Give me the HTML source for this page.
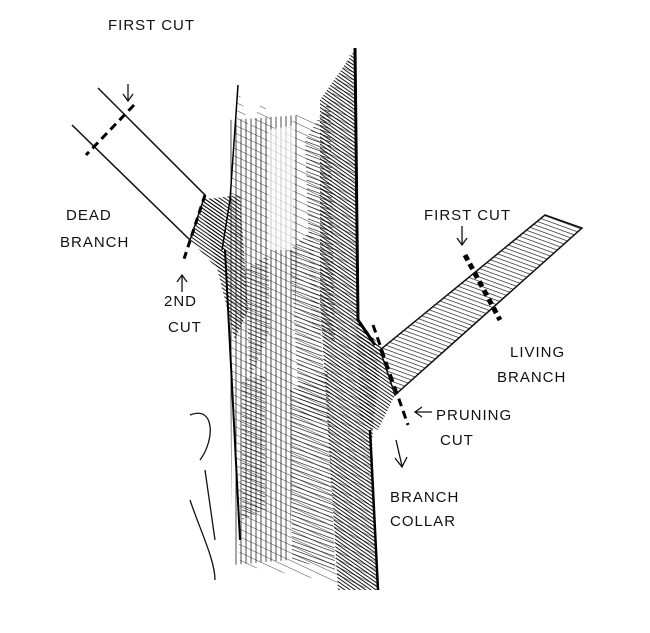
<!DOCTYPE html>
<html><head><style>
html,body{margin:0;padding:0;background:#fff;}
svg{display:block}
text{font-family:"Liberation Sans",sans-serif;font-size:15px;fill:#111;letter-spacing:1px}
</style></head><body>
<svg width="650" height="633" viewBox="0 0 650 633">
<defs>
<pattern id="h" width="6" height="4" patternUnits="userSpaceOnUse" patternTransform="rotate(20)">
<line x1="0" y1="0" x2="6" y2="0" stroke="#111" stroke-width="1.3"/></pattern>
<pattern id="hl" width="6" height="7" patternUnits="userSpaceOnUse" patternTransform="rotate(25)">
<line x1="0" y1="0" x2="6" y2="0" stroke="#333" stroke-width="0.9"/></pattern>
<pattern id="hd" width="4" height="3" patternUnits="userSpaceOnUse" patternTransform="rotate(35)">
<line x1="0" y1="0" x2="4" y2="0" stroke="#000" stroke-width="1.8"/></pattern>
<pattern id="v" width="5" height="10" patternUnits="userSpaceOnUse">
<line x1="1" y1="0" x2="1" y2="10" stroke="#222" stroke-width="1"/></pattern>
</defs>
<!-- base trunk texture -->
<path d="M238,88 L250,130 L262,100 L280,140 L300,110 L320,120 L352,48 L358,330 L378,350 L372,440 L378,590 L240,565 L226,250 Z" fill="url(#hl)"/>
<path d="M228,120 L300,115 L290,560 L232,565 Z" fill="url(#v)" opacity="0.8"/>
<path d="M268,130 L295,125 L292,250 L268,250 Z" fill="#fff" opacity="0.7"/>
<path d="M225,250 L240,540" stroke="#000" stroke-width="2" fill="none"/>
<path d="M238,85 L230,200 L222,250" stroke="#000" stroke-width="1.5" fill="none"/>
<!-- left hatch zones -->
<path d="M200,200 L240,195 L248,310 L235,340 Z" fill="url(#hd)"/>
<path d="M245,270 L268,255 L270,330 L250,380 Z" fill="url(#h)"/>
<path d="M242,380 L265,375 L265,510 L242,520 Z" fill="url(#h)"/>
<!-- center-right hatch -->
<path d="M290,250 L312,230 L328,420 L300,420 Z" fill="url(#h)"/>
<path d="M290,390 L328,370 L335,570 L292,560 Z" fill="url(#h)"/>
<path d="M320,100 L355,50 L358,320 L382,348 L372,440 L378,590 L338,590 L320,300 Z" fill="url(#hd)"/>
<path d="M305,140 L330,100 L335,340 L312,330 Z" fill="url(#h)"/>
<path d="M355,48 L358,320 L375,345" stroke="#000" stroke-width="3" fill="none"/>
<path d="M370,430 L378,590" stroke="#000" stroke-width="2.5"/>
<!-- dead branch -->
<path d="M72,125 L190,240 L205,195 L98,88" fill="#fff" stroke="#111" stroke-width="1.5"/>
<path d="M134,105 L86,155" stroke="#000" stroke-width="3" stroke-dasharray="8,5"/>
<path d="M205,195 L183,262" stroke="#000" stroke-width="3" stroke-dasharray="7,5"/>
<path d="M190,240 L205,198 L222,200 L228,280 Z" fill="url(#hd)"/>
<!-- living branch -->
<path d="M380,350 L545,215 L582,228 L395,395 Z" fill="url(#h)" stroke="#111" stroke-width="1.5"/>
<path d="M465,255 L500,320" stroke="#000" stroke-width="5" stroke-dasharray="6,4"/>
<path d="M373,325 L408,425" stroke="#000" stroke-width="3" stroke-dasharray="8,5"/>
<path d="M356,320 L382,350 L395,395 L378,430 L360,420 Z" fill="url(#hd)"/>
<!-- signature -->
<path d="M190,415 C215,405 215,440 200,460 M190,500 C200,530 215,560 215,580 M205,470 L215,540" stroke="#111" stroke-width="1.3" fill="none"/>
<!-- arrows -->
<path d="M128,84 L128,100 M123,94 L128,101 L133,94" stroke="#111" stroke-width="1.3" fill="none"/>
<path d="M182,292 L182,276 M177,282 L182,275 L187,282" stroke="#111" stroke-width="1.3" fill="none"/>
<path d="M462,226 L462,244 M457,238 L462,245 L467,238" stroke="#111" stroke-width="1.3" fill="none"/>
<path d="M432,412 L416,412 M422,407 L415,412 L422,417" stroke="#111" stroke-width="1.3" fill="none"/>
<path d="M396,440 L402,466 M395,458 L402,467 L407,457" stroke="#111" stroke-width="1.3" fill="none"/>
<!-- labels -->
<text x="108" y="30">FIRST CUT</text>
<text x="66" y="220">DEAD</text>
<text x="60" y="247">BRANCH</text>
<text x="164" y="306">2ND</text>
<text x="168" y="332">CUT</text>
<text x="424" y="220">FIRST CUT</text>
<text x="510" y="357">LIVING</text>
<text x="497" y="382">BRANCH</text>
<text x="436" y="420">PRUNING</text>
<text x="440" y="445">CUT</text>
<text x="390" y="502">BRANCH</text>
<text x="390" y="526">COLLAR</text>
</svg>
</body></html>
